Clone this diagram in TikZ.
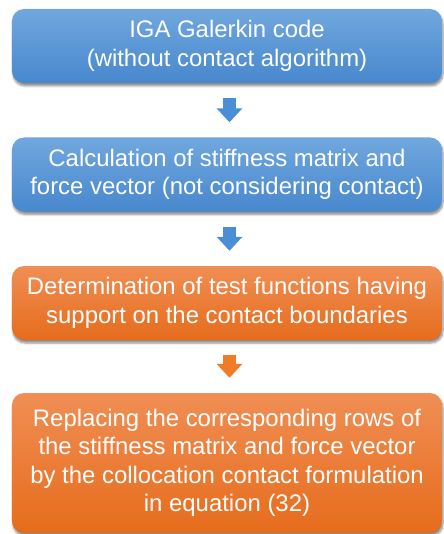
\documentclass[tikz,border=0pt]{standalone}
\usepackage{fontspec}
\setmainfont{Liberation Sans}
\usetikzlibrary{arrows.meta,shadows.blur}
\definecolor{bluetop}{RGB}{112,167,222}
\definecolor{bluebot}{RGB}{72,136,206}
\definecolor{orangetop}{RGB}{240,142,84}
\definecolor{orangebot}{RGB}{230,108,28}
\definecolor{arrowblue}{RGB}{74,142,214}
\definecolor{arroworange}{RGB}{240,124,40}

\tikzset{
  flowbox/.style={rounded corners=12bp, minimum width=430bp, minimum height=74bp,
    align=center, text=white,
    blur shadow={shadow xshift=1bp, shadow yshift=-3bp, shadow blur steps=6, shadow opacity=45}},
  bluebox/.style={flowbox, top color=bluetop, bottom color=bluebot},
  orangebox/.style={flowbox, top color=orangetop, bottom color=orangebot},
  blockarrow/.style={line width=13bp, -{Triangle[width=25bp,length=14bp]},
    shorten <=15bp, shorten >=15bp}
}

\begin{document}
\begin{tikzpicture}[x=1bp, y=1bp, every node/.style={font=\fontsize{24}{28.5}\selectfont}]
\useasboundingbox (0,0) rectangle (444,-534);

% Steps of the procedure
\node[bluebox] (galerkin) at (227,-46) {IGA Galerkin code\\(without contact algorithm)};
\node[bluebox] (stiffness) at (227,-174.5) {Calculation of stiffness matrix and\\force vector (not considering contact)};
\node[orangebox] (testfun) at (227,-303) {Determination of test functions having\\support on the contact boundaries};
\node[orangebox, minimum height=140bp] (replace) at (227,-463) {Replacing the corresponding rows of\\the stiffness matrix and force vector\\by the collocation contact formulation\\in equation (32)};

% Arrows between the steps
\draw[blockarrow, arrowblue] ([xshift=2.5bp]galerkin.south) -- ([xshift=2.5bp]stiffness.north);
\draw[blockarrow, arrowblue] ([xshift=2.5bp]stiffness.south) -- ([xshift=2.5bp]testfun.north);
\draw[blockarrow, arroworange] ([xshift=2.5bp]testfun.south) -- ([xshift=2.5bp]replace.north);

\end{tikzpicture}
\end{document}
